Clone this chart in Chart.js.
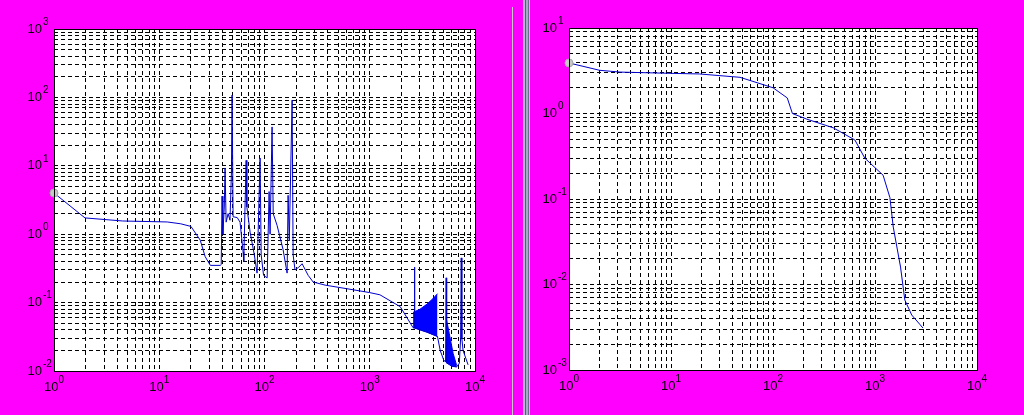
<!DOCTYPE html>
<html>
<head>
<meta charset="utf-8">
<script src="https://cdn.jsdelivr.net/npm/chart.js@4.4.0/dist/chart.umd.min.js"></script>
<style>
body { margin: 0; background: #ff00ff; width: 1024px; height: 415px; overflow: hidden; position: relative; }
canvas { position: absolute; top: 0; }
#c1 { left: 0; }
#c2 { left: 530px; }
.sep1 { position: absolute; left: 512px; top: 7px; width: 1px; height: 408px; background: #c8c8c8; }
.sep2 { position: absolute; left: 523px; top: 0; width: 7px; height: 415px;
  background: linear-gradient(to right, #b8b8d0 0px, #b8b8d0 2px, #5a5a7a 2px, #5a5a7a 3px, #a8a8c8 3px, #a8a8c8 5px, #6a6a8a 5px, #6a6a8a 6px, #c0c0d8 6px); }
</style>
</head>
<body>
<canvas id="c1" width="510" height="415"></canvas>
<div class="sep1"></div>
<div class="sep2"></div>
<canvas id="c2" width="494" height="415"></canvas>
<script>
// left panel: main curve
var leftX = [1, 1.97, 4.5, 11.9, 16, 20, 24.5, 27.3, 30.6, 38, 38.8, 39.5, 40.2, 41.5, 42.2, 43.2, 45.1, 47, 48.5, 49.2, 50.3, 55, 58.6, 62.6, 63.5,
  66.9, 68, 73, 80, 85, 90.8, 93, 98, 106, 110.6, 113, 118, 121, 131.8, 150, 164, 167.6, 172, 183, 187, 195, 212, 227.7, 260, 290, 377,
  600, 1000, 1250, 1950, 2580, 2640, 2660, 2680, 3000, 3500, 4000, 4400, 4670, 5030, 5250, 5320, 5380, 6020, 6700, 7100, 7300, 7400, 7500, 7700, 8600];
var leftY = [4.0, 1.73, 1.56, 1.51, 1.42, 1.3, 0.82, 0.47, 0.35, 0.35, 0.36, 3.6, 1.0, 2.5, 9.3, 1.5, 2.0, 1.6, 8, 108, 1.8, 1.75, 1.5, 0.55, 0.4,
  12, 2.5, 1.07, 0.5, 0.27, 13, 0.5, 0.25, 0.23, 4.2, 1.0, 37, 2.0, 1.34, 0.6, 0.27, 3.7, 0.8, 91, 0.5, 0.3, 0.33, 0.37, 0.25, 0.2, 0.18,
  0.16, 0.14, 0.13, 0.087, 0.043, 0.043, 0.33, 0.043, 0.04, 0.037, 0.034, 0.032, 0.02, 0.0146, 0.0135, 0.23, 0.0132, 0.0117, 0.0115, 0.013, 0.03, 0.45, 0.03, 0.02, 0.0123];

// left panel: dense oscillation bands
var band1X = [2580, 3000, 3500, 4000, 4400];
var band1Low = [0.043, 0.04, 0.037, 0.034, 0.032];
var band1High = [0.072, 0.08, 0.095, 0.115, 0.135];
var band2X = [5320, 5700, 6200, 6700];
var band2Low = [0.0132, 0.0125, 0.0117, 0.0115];
var band2High = [0.06, 0.035, 0.018, 0.012];

// right panel curve
var rightX = [1, 2, 3.16, 10, 19, 47.5, 100, 138, 155, 214, 390, 635, 795, 1200, 1400, 1510, 1780, 1960, 2290, 2760, 2950];
var rightY = [3.9, 3.2, 3.05, 2.95, 2.9, 2.65, 2.0, 1.52, 1.0, 0.86, 0.68, 0.49, 0.3, 0.19, 0.104, 0.047, 0.016, 0.0066, 0.0044, 0.0034, 0.0031];

// decades shown as tick labels
var xExps = [0, 1, 2, 3, 4];
var leftYExps = [-2, -1, 0, 1, 2, 3];
var rightYExps = [-3, -2, -1, 0, 1];

function gridValues(exps) {
    var out = [];
    for (var i = 0; i < exps.length; i++) {
        var p = Math.pow(10, exps[i]);
        if (i == exps.length - 1) { out.push(p); break; }
        for (var m = 1; m < 10; m++) out.push(m * p);
    }
    return out;
}

function pts(xs, ys) {
    var out = [];
    for (var i = 0; i < xs.length; i++) out.push({x: xs[i], y: ys[i]});
    return out;
}

var framePlugin = {
    id: 'frame',
    beforeDraw: function(chart) {
        var a = chart.chartArea, ctx = chart.ctx;
        ctx.save();
        ctx.fillStyle = '#ffffff';
        ctx.fillRect(a.left, a.top, a.right - a.left, a.bottom - a.top);
        ctx.restore();
    },
    afterDraw: function(chart) {
        var a = chart.chartArea, ctx = chart.ctx;
        var yExps = chart.options.yExps;
        ctx.save();
        ctx.strokeStyle = '#000';
        ctx.lineWidth = 1;
        ctx.strokeRect(Math.round(a.left) + 0.5, Math.round(a.top) + 0.5, Math.round(a.right - a.left), Math.round(a.bottom - a.top));
        ctx.fillStyle = '#000';
        var big = '13px "Liberation Sans", Arial, sans-serif';
        var small = '10px "Liberation Sans", Arial, sans-serif';
        // y labels
        for (var i = 0; i < yExps.length; i++) {
            var y = chart.scales.y.getPixelForValue(Math.pow(10, yExps[i]));
            ctx.font = big;
            ctx.textAlign = 'right';
            ctx.textBaseline = 'middle';
            ctx.fillText('10', a.left - 12, y);
            ctx.font = small;
            ctx.textAlign = 'left';
            ctx.fillText(String(yExps[i]), a.left - 11, y - 7);
        }
        // x labels
        for (var j = 0; j < xExps.length; j++) {
            var x = chart.scales.x.getPixelForValue(Math.pow(10, xExps[j]));
            ctx.font = big;
            var w1 = ctx.measureText('10').width;
            ctx.font = small;
            var w2 = ctx.measureText(String(xExps[j])).width;
            var x0 = x - (w1 + w2) / 2;
            ctx.font = big;
            ctx.textAlign = 'left';
            ctx.textBaseline = 'middle';
            ctx.fillText('10', x0, a.bottom + 16);
            ctx.font = small;
            ctx.fillText(String(xExps[j]), x0 + w1, a.bottom + 9);
        }
        ctx.restore();
    }
};

function lineSet(data) {
    return {
        data: data,
        borderColor: '#0000cc',
        borderWidth: 1,
        tension: 0,
        fill: false,
        clip: false,
        pointRadius: function(c) { return c.dataIndex === 0 ? 4 : 0; },
        pointBackgroundColor: '#c8c8c8',
        pointBorderColor: '#a8a8a8'
    };
}

function bandSet(data, fill) {
    return {
        data: data,
        borderColor: '#0000ff',
        borderWidth: 1,
        backgroundColor: '#0000ff',
        pointRadius: 0,
        tension: 0,
        fill: fill
    };
}

function axis(min, max, exps) {
    return {
        type: 'logarithmic',
        min: min,
        max: max,
        afterBuildTicks: function(s) {
            s.ticks = gridValues(exps).map(function(v) { return {value: v}; });
        },
        ticks: {display: false, autoSkip: false},
        grid: {color: '#000', lineWidth: 1, drawTicks: false},
        border: {display: false, dash: [4, 3]}
    };
}

function makeChart(id, datasets, yExps, pad) {
    return new Chart(document.getElementById(id), {
        type: 'line',
        data: {datasets: datasets},
        options: {
            responsive: false,
            animation: false,
            yExps: yExps,
            layout: {padding: pad},
            plugins: {legend: {display: false}, tooltip: {enabled: false}},
            scales: {
                x: axis(1, 10000, xExps),
                y: axis(Math.pow(10, yExps[0]), Math.pow(10, yExps[yExps.length - 1]), yExps)
            }
        },
        plugins: [framePlugin]
    });
}

var chart1 = makeChart('c1', [
    lineSet(pts(leftX, leftY)),
    bandSet(pts(band1X, band1Low), false),
    bandSet(pts(band1X, band1High), '-1'),
    bandSet(pts(band2X, band2Low), false),
    bandSet(pts(band2X, band2High), '-1')
], leftYExps, {left: 54, top: 29, right: 35, bottom: 44});

var chart2 = makeChart('c2', [
    lineSet(pts(rightX, rightY))
], rightYExps, {left: 39, top: 28, right: 47, bottom: 45});
</script>
</body>
</html>
